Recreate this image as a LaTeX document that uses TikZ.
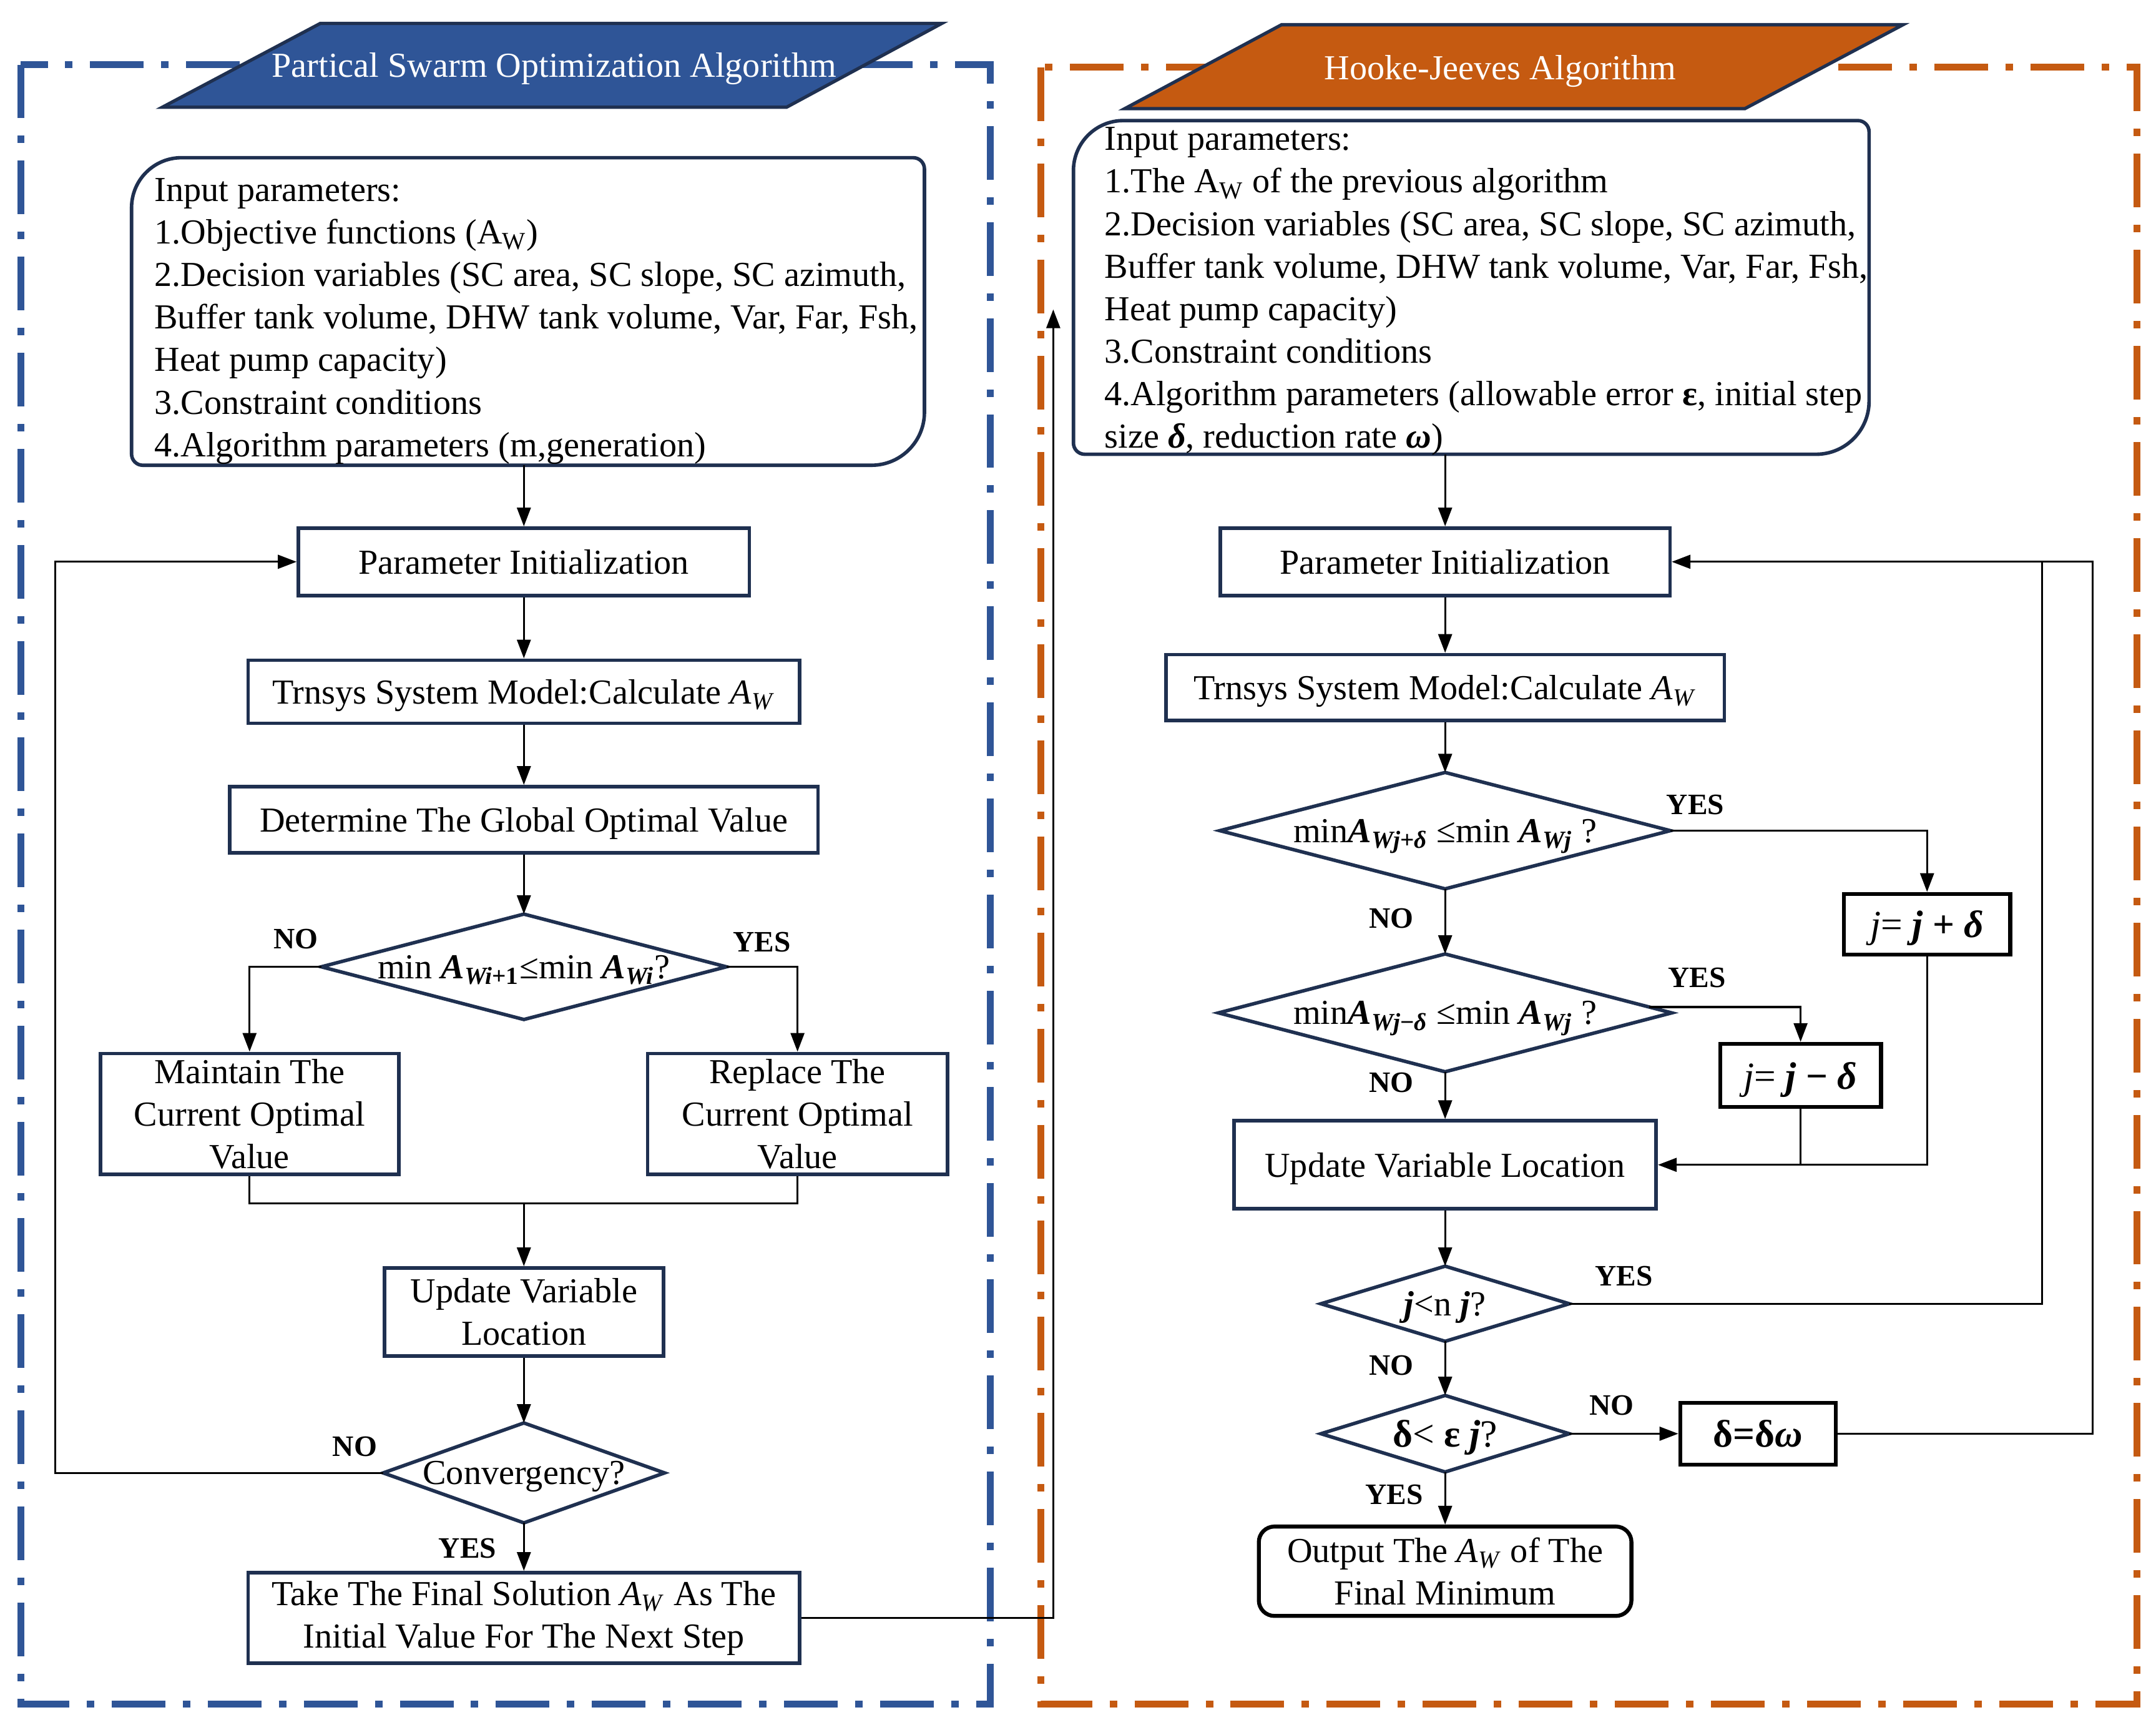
\documentclass[tikz,border=0pt]{standalone}
\usepackage{fontspec}
\setmainfont{Liberation Serif}
\usetikzlibrary{arrows.meta,calc}
\definecolor{navy}{HTML}{1F3050}
\definecolor{pblue}{HTML}{2F5597}
\definecolor{porange}{HTML}{C55A11}
\newcommand\myfs{\fontsize{16pt}{19.4pt}\selectfont}
\newcommand\mybig{\fontsize{17.5pt}{20pt}\selectfont}
\newcommand\lblfs{\fontsize{13.5pt}{16pt}\selectfont\bfseries}
\newcommand\unitpx{0.022028cm}
\newcommand\bi[1]{\textbf{\textit{#1}}}
\newcommand\AW{\textit{A}\textsubscript{\textit{W}}}
\begin{document}
\begin{tikzpicture}[x=0.022028cm, y=-0.022028cm,
  box/.style={draw=navy, line width=1.6pt, inner sep=0pt, align=center, font=\myfs, fill=white},
  one/.style={text depth=0pt},
  bbox/.style={draw=black, line width=1.8pt, inner sep=0pt, align=center, font=\mybig, text depth=0pt},
  wh/.style 2 args={minimum width={#1*\unitpx}, minimum height={#2*\unitpx}},
  dnode/.style={inner sep=0pt, align=center, font=\myfs, text depth=0pt},
  dia/.style={draw=navy, line width=1.6pt, line join=miter},
  arr/.style={draw=black, line width=0.9pt, -{Triangle[length=0.3cm,width=0.22cm]}},
  ln/.style={draw=black, line width=0.9pt},
  lbl/.style={font=\lblfs, inner sep=0pt},
  intext/.style={font=\myfs, align=left, inner sep=0pt, anchor=west},
  frameb/.style={draw=pblue, line width=0.11cm, dash pattern=on 0.86cm off 0.28cm on 0.12cm off 0.28cm},
  frameo/.style={draw=porange, line width=0.11cm, dash pattern=on 0.86cm off 0.28cm on 0.12cm off 0.28cm},
  ttl/.style={font=\myfs, text=white, inner sep=0pt}
]
\useasboundingbox (0,0) rectangle (1568,1254);

% frames
\draw[frameb] (15,47) rectangle (720,1239);
\draw[frameo] (757,49) rectangle (1554,1239);

% titles
\filldraw[fill=pblue, draw=navy, line width=1.5pt] (233,17) -- (685,17) -- (572,78) -- (118,78) -- cycle;
\node[ttl] (tL) at (403,50) {Partical Swarm Optimization Algorithm};
\filldraw[fill=porange, draw=navy, line width=1.5pt] (932,18) -- (1384,18) -- (1269,79) -- (818,79) -- cycle;
\node[ttl] (tR) at (1091,52) {Hooke-Jeeves Algorithm};

% ---------- left column ----------
\node[inner sep=0pt, wh={576}{223}] (inL) at (384,226.5) {};
\draw[draw=navy, line width=1.6pt] (inL.south) [rounded corners=0.18cm] -- (inL.south west) [rounded corners=0.8cm] -- (inL.north west) [rounded corners=0.18cm] -- (inL.north east) [rounded corners=0.85cm] -- (inL.south east) -- cycle;
\node[intext] (inLt) at (112,233.5) {Input parameters:\\
1.Objective functions (A\textsubscript{W})\\
2.Decision variables (SC area, SC slope, SC azimuth,\\
Buffer tank volume, DHW tank volume, Var, Far, Fsh,\\
Heat pump capacity)\\
3.Constraint conditions\\
4.Algorithm parameters (m,generation)};

\node[box, one, wh={328}{49}] (pi1) at (381,408.5) {Parameter Initialization};
\node[box, one, wh={401}{46}] (tr1) at (381,503) {Trnsys System Model:Calculate \AW};
\node[box, one, wh={428}{48}] (dg) at (381,596) {Determine The Global Optimal Value};
\node[dnode, wh={294}{76}] (dm1) at (381,703) {min \bi{A}\textsubscript{\bi{Wi}\textbf{+1}}≤min \bi{A}\textsubscript{\bi{Wi}}?};
\draw[dia] (dm1.north) -- (dm1.east) -- (dm1.south) -- (dm1.west) -- cycle;
\node[box, wh={217}{88}] (mt) at (181.5,810) {Maintain The\\Current Optimal\\Value};
\node[box, wh={218}{88}] (rp) at (580,810) {Replace The\\Current Optimal\\Value};
\node[box, wh={203}{64}] (up1) at (381,954) {Update Variable\\Location};
\node[dnode, wh={204}{72}] (cv) at (381,1071) {Convergency?};
\draw[dia] (cv.north) -- (cv.east) -- (cv.south) -- (cv.west) -- cycle;
\node[box, wh={401}{66}] (tf) at (381,1176.5) {Take The Final Solution \AW{} As The\\Initial Value For The Next Step};

\draw[arr] (pi1.north |- inL.south) -- (pi1.north);
\draw[arr] (pi1.south) -- (tr1.north);
\draw[arr] (tr1.south) -- (dg.north);
\draw[arr] (dg.south) -- (dm1.north);
\draw[arr] (dm1.west) -| (mt.north);
\draw[arr] (dm1.east) -| (rp.north);
\coordinate (mg) at (381,875);
\draw[ln] (mt.south) |- (mg) -| (rp.south);
\draw[arr] (mg) -- (up1.north);
\draw[arr] (up1.south) -- (cv.north);
\draw[arr] (cv.south) -- (tf.north);
\coordinate (lx) at (40,1071);
\draw[arr] (cv.west) -- (lx) |- (pi1.west);
\coordinate (hj) at (766,225);
\draw[arr] (tf.east) -| (hj);

\node[lbl] (l1) at (215,683) {NO};
\node[lbl] (l2) at (554,685) {YES};
\node[lbl] (l3) at (258,1052) {NO};
\node[lbl] (l4) at (340,1126) {YES};

% ---------- right column ----------
\node[inner sep=0pt, wh={578}{242}] (inR) at (1070,209) {};
\draw[draw=navy, line width=1.6pt] (inR.south) [rounded corners=0.18cm] -- (inR.south west) [rounded corners=0.8cm] -- (inR.north west) [rounded corners=0.18cm] -- (inR.north east) [rounded corners=0.85cm] -- (inR.south east) -- cycle;
\node[intext] (inRt) at (803,212) {Input parameters:\\
1.The A\textsubscript{W} of the previous algorithm\\
2.Decision variables (SC area, SC slope, SC azimuth,\\
Buffer tank volume, DHW tank volume, Var, Far, Fsh,\\
Heat pump capacity)\\
3.Constraint conditions\\
4.Algorithm parameters (allowable error \textbf{ε}, initial step\\
size \bi{δ}, reduction rate \bi{ω})};

\node[box, one, wh={327}{49}] (pi2) at (1051,408.5) {Parameter Initialization};
\node[box, one, wh={406}{48}] (tr2) at (1051,500) {Trnsys System Model:Calculate \AW};
\node[dnode, wh={327}{84}] (d1) at (1051,604) {min\bi{A}\textsubscript{\bi{Wj}\textbf{+}\bi{δ}} ≤min \bi{A}\textsubscript{\bi{Wj}} ?};
\draw[dia] (d1.north) -- (d1.east) -- (d1.south) -- (d1.west) -- cycle;
\node[dnode, wh={329}{85}] (d2) at (1051,736.5) {min\bi{A}\textsubscript{\bi{Wj}\textbf{−}\bi{δ}} ≤min \bi{A}\textsubscript{\bi{Wj}} ?};
\draw[dia] (d2.north) -- (d2.east) -- (d2.south) -- (d2.west) -- cycle;
\node[bbox, wh={121}{44}] (jp) at (1401.5,672) {\textit{j}= \bi{j} \textbf{+} \bi{δ}};
\node[bbox, wh={117}{46}] (jm) at (1309.5,782) {\textit{j}= \bi{j} \textbf{−} \bi{δ}};
\node[box, one, wh={307}{64}] (up2) at (1051,847) {Update Variable Location};
\node[dnode, wh={180}{54}] (d3) at (1051,948) {\bi{j}<n \bi{j}?};
\draw[dia] (d3.north) -- (d3.east) -- (d3.south) -- (d3.west) -- cycle;
\node[dnode, wh={180}{55}, font=\mybig] (d4) at (1051,1042.5) {\textbf{δ}< \textbf{ε} \bi{j}?};
\draw[dia] (d4.north) -- (d4.east) -- (d4.south) -- (d4.west) -- cycle;
\node[bbox, wh={113}{45}] (dw) at (1278.5,1042.5) {\textbf{δ=δ\textit{ω}}};
\node[draw=black, line width=1.8pt, rounded corners=0.25cm, inner sep=0pt, align=center, font=\myfs, wh={271}{65}] (out) at (1051,1142.5) {Output The \AW{} of The\\Final Minimum};

\draw[arr] (pi2.north |- inR.south) -- (pi2.north);
\draw[arr] (pi2.south) -- (tr2.north);
\draw[arr] (tr2.south) -- (d1.north);
\draw[arr] (d1.east) -| (jp.north);
\draw[arr] (d1.south) -- (d2.north);
\draw[arr] ($(d2.east)!0.1!(d2.north)$) -| (jm.north);
\draw[arr] (d2.south) -- (up2.north);
\draw[arr] (jp.south) |- (up2.east);
\draw[ln] (jm.south) -- (jm.south |- up2.east);
\draw[arr] (up2.south) -- (d3.north);
\coordinate (rx1) at (1485,948);
\draw[arr] (d3.east) -- (rx1) |- (pi2.east);
\draw[arr] (d3.south) -- (d4.north);
\draw[arr] (d4.east) -- (dw.west);
\coordinate (rx2) at (1522,1042.5);
\draw[ln] (dw.east) -- (rx2) |- (rx1 |- pi2.east);
\draw[arr] (d4.south) -- (out.north);

\node[lbl] (r1) at (1233,585) {YES};
\node[lbl] (r2) at (1012,668) {NO};
\node[lbl] (r3) at (1234,711) {YES};
\node[lbl] (r4) at (1012,787) {NO};
\node[lbl] (r5) at (1181,928) {YES};
\node[lbl] (r6) at (1012,993) {NO};
\node[lbl] (r7) at (1172,1022) {NO};
\node[lbl] (r8) at (1014,1087) {YES};
\end{tikzpicture}
\end{document}
